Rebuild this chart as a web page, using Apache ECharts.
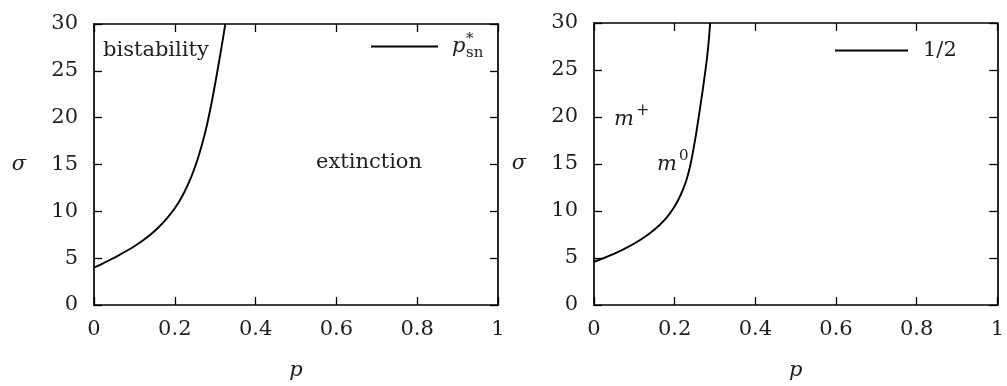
<!DOCTYPE html>
<html>
<head>
<meta charset="utf-8">
<style>
  html, body { margin: 0; padding: 0; background: #fff; }
  #chart { width: 1007px; height: 386px; }
</style>
<script src="https://cdn.jsdelivr.net/npm/echarts@6/dist/echarts.min.js"></script>
</head>
<body>
<div id="chart"></div>
<script>
// Saddle-node threshold p*_sn(sigma) and the 1/2 contour
const pSaddleNode = [0, 0.02, 0.04, 0.06, 0.08, 0.10, 0.12, 0.14, 0.16, 0.18, 0.20, 0.22, 0.24, 0.25, 0.26, 0.27, 0.28, 0.29, 0.30, 0.31, 0.32, 0.325];
const sigmaSaddleNode = [4.0, 4.4, 4.83, 5.28, 5.76, 6.28, 6.86, 7.52, 8.3, 9.22, 10.32, 11.75, 13.6, 14.75, 16.05, 17.55, 19.3, 21.35, 23.65, 26.1, 28.65, 30];

const pHalf = [0, 0.02, 0.04, 0.06, 0.08, 0.10, 0.12, 0.14, 0.16, 0.18, 0.19, 0.20, 0.21, 0.22, 0.23, 0.24, 0.25, 0.26, 0.27, 0.275, 0.28, 0.284, 0.288];
const sigmaHalf = [4.6, 4.92, 5.27, 5.65, 6.07, 6.54, 7.07, 7.68, 8.4, 9.3, 9.85, 10.5, 11.28, 12.22, 13.4, 15.1, 17.4, 20.1, 23.0, 24.55, 26.2, 27.85, 30];

const seriesNames = ['p*sn', '1/2'];
const xRange = [0, 1, 0.2];
const yRange = [0, 30, 5];

const FONT = 'DejaVu Serif';
const TEXT = '#1e1e1e';
const FS = 21;

function pairs(xs, ys) { return xs.map((x, i) => [x, ys[i]]); }

const grids = [
  { left: 94, top: 24, width: 404, height: 282 },
  { left: 594, top: 23, width: 409, height: 284 }
];

const lineStyle = { color: '#000', width: 1.7 };
const tickStyle = { show: true, inside: true, length: 8, lineStyle: { color: '#000', width: 1.3 } };

function xAxis(gi, pos, main) {
  return {
    type: 'value', gridIndex: gi, position: pos,
    min: xRange[0], max: xRange[1], interval: xRange[2],
    axisLine: { show: true, onZero: false, lineStyle },
    axisTick: tickStyle,
    splitLine: { show: false },
    axisLabel: main ? { show: true, margin: 14, fontFamily: FONT, fontSize: FS, color: TEXT } : { show: false },
    name: main ? 'p' : '',
    nameLocation: 'middle', nameGap: 55,
    nameTextStyle: { fontFamily: FONT, fontStyle: 'italic', fontSize: FS, color: TEXT }
  };
}
function yAxis(gi, pos, main) {
  return {
    type: 'value', gridIndex: gi, position: pos,
    min: yRange[0], max: yRange[1], interval: yRange[2],
    axisLine: { show: true, onZero: false, lineStyle },
    axisTick: tickStyle,
    splitLine: { show: false },
    axisLabel: main ? { show: true, margin: 16, fontFamily: FONT, fontSize: FS, color: TEXT } : { show: false },
    name: main ? '\u03c3' : '',
    nameLocation: 'middle', nameGap: 68, nameRotate: 0,
    nameTextStyle: { fontFamily: FONT, fontStyle: 'italic', fontSize: FS, color: TEXT }
  };
}

function legend(left, top, width, name, label) {
  return {
    data: [name], left, top, orient: 'horizontal',
    icon: 'rect', itemWidth: width, itemHeight: 2,
    selectedMode: false,
    formatter: () => label,
    textStyle: {
      fontFamily: FONT, fontSize: FS, color: TEXT,
      rich: {
        it: { fontFamily: FONT, fontStyle: 'italic', fontSize: FS, color: TEXT, padding: [0, 0, 0, 9] },
        up: { fontFamily: FONT, fontSize: FS, color: TEXT, padding: [0, 0, 0, 10] }
      }
    }
  };
}

function txt(x, y, s, opts) {
  return {
    type: 'text', x, y, silent: true,
    style: Object.assign({
      text: s, fontFamily: FONT, fontSize: FS, fill: TEXT,
      textAlign: 'left', textVerticalAlign: 'middle'
    }, opts || {})
  };
}

const option = {
  animation: false,
  backgroundColor: '#fff',
  grid: grids,
  xAxis: [xAxis(0, 'bottom', true), xAxis(0, 'top', false), xAxis(1, 'bottom', true), xAxis(1, 'top', false)],
  yAxis: [yAxis(0, 'left', true), yAxis(0, 'right', false), yAxis(1, 'left', true), yAxis(1, 'right', false)],
  legend: [
    legend(366, 31, 67, seriesNames[0], '{it|p}'),
    legend(830, 35, 73, seriesNames[1], '{up|1/2}')
  ],
  series: [
    {
      name: seriesNames[0], type: 'line', xAxisIndex: 0, yAxisIndex: 0,
      data: pairs(pSaddleNode, sigmaSaddleNode),
      showSymbol: false, smooth: 0.3, clip: true,
      lineStyle: { color: '#000', width: 1.9 }, itemStyle: { color: '#000' }
    },
    {
      name: seriesNames[1], type: 'line', xAxisIndex: 2, yAxisIndex: 2,
      data: pairs(pHalf, sigmaHalf),
      showSymbol: false, smooth: 0.3, clip: true,
      lineStyle: { color: '#000', width: 1.9 }, itemStyle: { color: '#000' }
    }
  ],
  graphic: [
    // subscript and superscript of the p*_sn legend label
    txt(466, 53, 'sn', { fontSize: 15 }),
    txt(466, 39, '*', { fontSize: 15 }),
    // region labels
    txt(103, 51, 'bistability'),
    txt(316, 163, 'extinction'),
    txt(614, 120, 'm', { fontStyle: 'italic' }),
    txt(636, 111, '+', { fontSize: 16 }),
    txt(657, 165, 'm', { fontStyle: 'italic' }),
    txt(679, 156, '0', { fontSize: 15 })
  ]
};

const chart = echarts.init(document.getElementById('chart'), null, { renderer: 'canvas' });
chart.setOption(option);
</script>
</body>
</html>
